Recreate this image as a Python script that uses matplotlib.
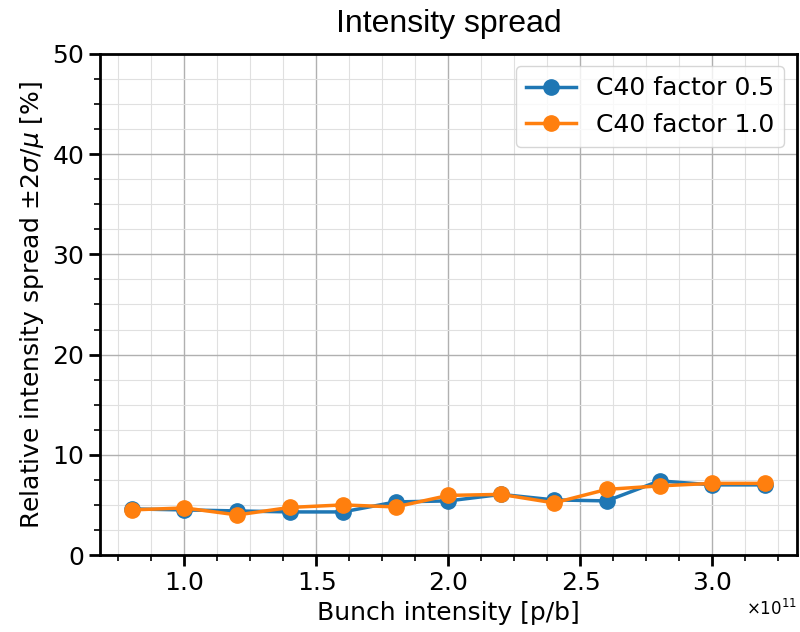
import matplotlib
matplotlib.use("Agg")
import matplotlib.pyplot as plt
from matplotlib.ticker import MultipleLocator
import numpy as np

plt.rcParams["axes.formatter.use_mathtext"] = True

bunch_intensity = [0.8e11, 1.0e11, 1.2e11, 1.4e11, 1.6e11, 1.8e11, 2.0e11, 2.2e11,
                   2.4e11, 2.6e11, 2.8e11, 3.0e11, 3.2e11]
spread_c40_05 = [4.6, 4.5, 4.4, 4.3, 4.3, 5.3, 5.4, 6.05, 5.5, 5.4, 7.4, 7.0, 7.0]
spread_c40_10 = [4.5, 4.7, 4.0, 4.75, 5.0, 4.8, 5.95, 6.05, 5.2, 6.55, 6.9, 7.15, 7.15]
labels = ["C40 factor 0.5", "C40 factor 1.0"]

fig = plt.figure(figsize=(8, 6.32), dpi=100)
ax = fig.add_axes([0.125, 0.1218, 0.871, 0.7928])

ax.plot(bunch_intensity, spread_c40_05, "-o", color="#1f77b4", lw=2.5, ms=11, label=labels[0])
ax.plot(bunch_intensity, spread_c40_10, "-o", color="#ff7f0e", lw=2.5, ms=11, label=labels[1])

ax.set_ylim(0, 50)
ax.xaxis.set_major_locator(MultipleLocator(0.5e11))
ax.xaxis.set_minor_locator(MultipleLocator(0.125e11))
ax.yaxis.set_major_locator(MultipleLocator(10))
ax.yaxis.set_minor_locator(MultipleLocator(2.5))
ax.grid(which="major", color="#b0b0b0", lw=1.0)
ax.grid(which="minor", color="#e0e0e0", lw=0.8)
ax.set_axisbelow(True)

for s in ax.spines.values():
    s.set_linewidth(2)
ax.tick_params(which="major", direction="out", length=8, width=2, labelsize=18)
ax.tick_params(which="minor", direction="out", length=4.5, width=1.2)
ax.xaxis.get_offset_text().set_fontsize(12)

ax.set_xlabel("Bunch intensity [p/b]", fontsize=18, labelpad=4)
ax.set_ylabel(r"Relative intensity spread $\pm 2\sigma/\mu$ [%]", fontsize=18)
ax.set_title("Intensity spread", fontsize=23, pad=16, family="Liberation Sans")
ax.legend(loc="upper right", fontsize=18)

fig.savefig("out.png", dpi=100)
